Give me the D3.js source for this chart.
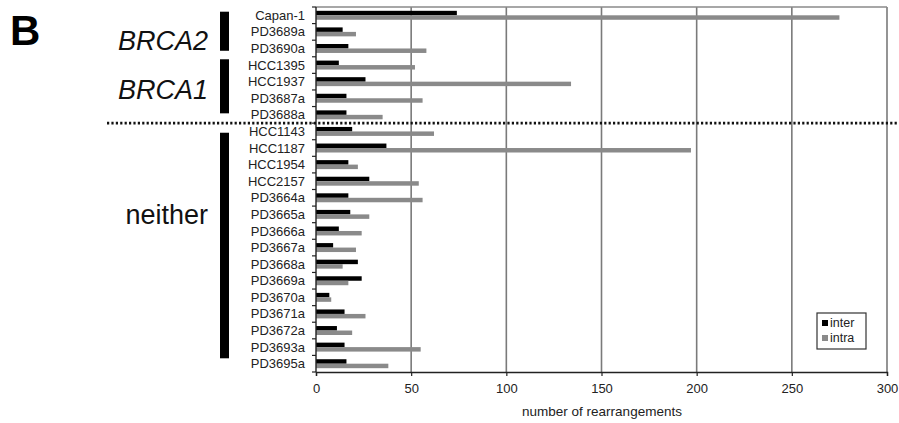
<!DOCTYPE html>
<html><head><meta charset="utf-8">
<script src="https://cdn.jsdelivr.net/npm/d3@7/dist/d3.min.js"></script>
<style>
body{margin:0;background:#fff;}
svg{display:block;font-family:"Liberation Sans",Arial,sans-serif;}
</style></head>
<body><svg id="c" width="899" height="423"></svg>
<script>
const categories = ["Capan-1","PD3689a","PD3690a","HCC1395","HCC1937","PD3687a","PD3688a",
  "HCC1143","HCC1187","HCC1954","HCC2157","PD3664a","PD3665a","PD3666a","PD3667a","PD3668a",
  "PD3669a","PD3670a","PD3671a","PD3672a","PD3693a","PD3695a"];
const inter = [74,14,17,12,26,16,16,19,37,17,28,17,18,12,9,22,24,7,15,11,15,16];
const intra = [275,21,58,52,134,56,35,62,197,22,54,56,28,24,21,14,17,8,26,19,55,38];
const seriesNames = ["inter","intra"];
const xTicks = [0,50,100,150,200,250,300];
const groupNames = ["BRCA2","BRCA1","neither"];
const groupFirst = ["Capan-1","HCC1395","HCC1143"];
const groupLast = ["PD3690a","PD3688a","PD3695a"];
const panelLabel = "B";
const xTitle = "number of rearrangements";

// layout (styling) for group annotations
const groupStyle = [
  {italic:true, insetTop:4.7, insetBottom:6, labelRow:"PD3690a", labelFrac:0},
  {italic:true, insetTop:2.5, insetBottom:9.8, labelRow:"PD3687a", labelFrac:0},
  {italic:false, insetTop:9.6, insetBottom:13.7, labelRow:"PD3665a", labelFrac:0.5}
];

const svg = d3.select("#c");
const L = 316, R = 887, T = 7, B = 372;
const x = d3.scaleLinear().domain([0,300]).range([L,R]);
const pi = 0.46;
const y = d3.scaleBand().domain(categories).range([T,B]).paddingInner(pi).paddingOuter(pi/2);
const step = y.step();
const off = step*pi/2;
const rowTop = c => y(c)-off;
const ys = d3.scaleBand().domain(seriesNames).range([0,y.bandwidth()]);
const colors = {inter:"#000000", intra:"#8a8a8a"};

// gridlines
svg.append("g").selectAll("line").data(xTicks.slice(1)).join("line")
  .attr("x1",d=>x(d)).attr("x2",d=>x(d)).attr("y1",T).attr("y2",B)
  .attr("stroke","#7a7a7a").attr("stroke-width",1.6);
svg.append("line").attr("x1",L).attr("x2",R).attr("y1",T).attr("y2",T)
  .attr("stroke","#8a8a8a").attr("stroke-width",1.4);

// bars
const data = categories.map((c,i)=>({c, inter:inter[i], intra:intra[i]}));
const g = svg.append("g");
seriesNames.forEach(s=>{
  g.selectAll("rect."+s).data(data).join("rect").attr("class",s)
    .attr("x",x(0)).attr("y",d=>y(d.c)+ys(s))
    .attr("width",d=>x(d[s])-x(0)).attr("height",ys.bandwidth())
    .attr("fill",colors[s]);
});

// x axis
const xa = svg.append("g").attr("transform",`translate(0,${B})`)
  .call(d3.axisBottom(x).tickValues(xTicks).tickSize(4).tickPadding(8));
xa.select(".domain").attr("stroke","#222").attr("stroke-width",1.4);
xa.selectAll(".tick line").attr("stroke","#222").attr("stroke-width",1.2);
xa.selectAll("text").attr("font-size",13).attr("fill","#222")
  .attr("font-family","Liberation Sans, Arial, sans-serif");

// y axis
svg.append("line").attr("x1",L).attr("x2",L).attr("y1",T).attr("y2",B)
  .attr("stroke","#222").attr("stroke-width",1.4);
const bounds = categories.map(rowTop).concat([rowTop(categories[categories.length-1])+step]);
svg.append("g").selectAll("line").data(bounds).join("line")
  .attr("x1",L-4).attr("x2",L).attr("y1",d=>d).attr("y2",d=>d)
  .attr("stroke","#222").attr("stroke-width",1.2);
svg.append("g").selectAll("text").data(categories).join("text")
  .attr("x",L-11).attr("y",c=>y(c)+y.bandwidth()/2).attr("dy","0.35em")
  .attr("text-anchor","end").attr("font-size",13).attr("fill","#222").text(c=>c);

// dotted separator
svg.append("line").attr("x1",107).attr("x2",899)
  .attr("y1",rowTop("HCC1143")).attr("y2",rowTop("HCC1143"))
  .attr("stroke","#111").attr("stroke-width",2.6).attr("stroke-dasharray","2.2,2.2");

// group bars and labels
groupNames.forEach((name,i)=>{
  const st = groupStyle[i];
  const y1 = rowTop(groupFirst[i])+st.insetTop, y2 = rowTop(groupLast[i])+step-st.insetBottom;
  svg.append("rect").attr("x",220).attr("y",y1).attr("width",9).attr("height",y2-y1).attr("fill","#000");
  svg.append("text").attr("x",208).attr("y",rowTop(st.labelRow)+st.labelFrac*step).attr("dy","0.35em")
    .attr("text-anchor","end").attr("font-size",27).attr("fill","#111")
    .attr("font-style",st.italic?"italic":"normal").text(name);
});

svg.append("text").attr("x",10).attr("y",45).attr("font-size",42).attr("font-weight","bold")
  .attr("fill","#000").text(panelLabel);

svg.append("text").attr("x",602).attr("y",416).attr("text-anchor","middle")
  .attr("font-size",13.5).attr("fill","#222").text(xTitle);

// legend
const lg = svg.append("g").attr("transform","translate(817,313)");
lg.append("rect").attr("width",49).attr("height",36).attr("fill","#fff")
  .attr("stroke","#333").attr("stroke-width",1.2);
seriesNames.forEach((s,i)=>{
  lg.append("rect").attr("x",5).attr("y",7+i*15).attr("width",6).attr("height",6).attr("fill",colors[s]);
  lg.append("text").attr("x",13).attr("y",10+i*15).attr("dy","0.35em").attr("font-size",12.5)
    .attr("fill","#222").text(s);
});
</script></body></html>
